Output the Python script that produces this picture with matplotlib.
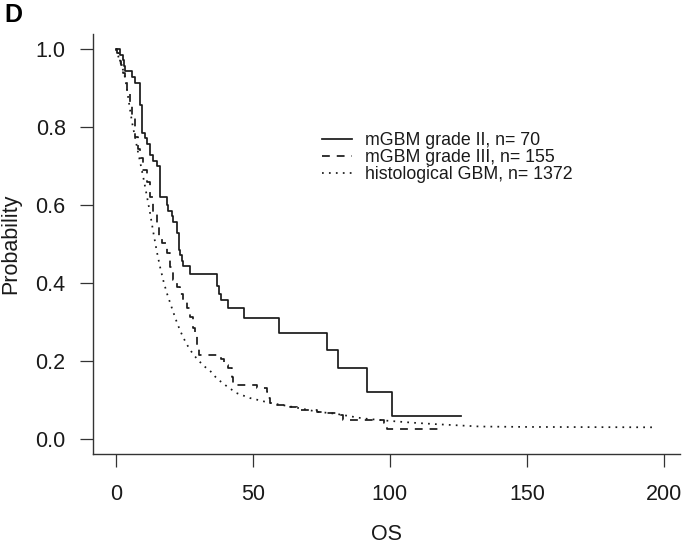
import matplotlib
matplotlib.use("Agg")
import matplotlib.pyplot as plt

# ---- data ----
g2_time = [0, 1.5, 2.5, 3.0, 3.4, 5.8, 7.0, 8.9, 9.7, 10.7, 11.3, 12.5, 13.7, 15.0, 16.2,
           18.6, 19.2, 20.4, 21.0, 22.3, 22.9, 23.5, 24.1, 24.5, 27.1, 37.1, 37.8, 38.3,
           40.9, 46.8, 59.7, 77.0, 80.9, 91.6, 100.7, 125.9]
g2_surv = [1.0, 0.986, 0.971, 0.957, 0.943, 0.929, 0.914, 0.857, 0.786, 0.771, 0.757, 0.729,
           0.714, 0.700, 0.621, 0.600, 0.586, 0.571, 0.557, 0.529, 0.486, 0.471, 0.457,
           0.443, 0.423, 0.393, 0.371, 0.357, 0.337, 0.310, 0.273, 0.228, 0.181, 0.121,
           0.060, 0.060]

g3_time = [0, 0.5, 1.0, 1.5, 2.0, 2.8, 3.4, 4.2, 5.2, 6.0, 7.0, 8.0, 8.9, 10.0, 11.3, 12.5,
           13.7, 15.0, 15.6, 16.8, 18.6, 19.8, 21.0, 22.3, 23.5, 24.7, 25.9, 27.1, 28.3,
           29.0, 29.6, 30.5, 38.3, 39.3, 41.1, 42.3, 42.9, 51.5, 55.1, 55.7, 56.3, 58.8,
           63.6, 66.0, 73.4, 77.0, 80.7, 83.0, 97.7, 98.9, 119.6]
g3_surv = [1.0, 0.99, 0.98, 0.97, 0.96, 0.94, 0.92, 0.89, 0.853, 0.825, 0.775, 0.745, 0.72,
           0.69, 0.66, 0.62, 0.583, 0.545, 0.52, 0.502, 0.476, 0.442, 0.408, 0.39, 0.372,
           0.357, 0.335, 0.314, 0.285, 0.265, 0.24, 0.216, 0.205, 0.19, 0.181, 0.16, 0.139,
           0.13, 0.121, 0.104, 0.092, 0.088, 0.083, 0.074, 0.070, 0.066, 0.062, 0.049,
           0.040, 0.025, 0.025]

gbm_time = [0, 1, 2, 3, 3.4, 4, 5.2, 6, 7, 8, 8.9, 10.1, 11.3, 12.5, 13.7, 15.0, 16.2, 17.4,
            18.6, 19.8, 21.0, 22.5, 24.0, 25.5, 27.0, 28.5, 30.0, 32.0, 34.4, 36.9, 40.0,
            44.0, 49.0, 52.0, 56.0, 60.0, 64.0, 70.0, 73.4, 80.0, 85.0, 90.0, 99.0, 108.0,
            117.0, 125.0, 133.0, 150.0, 197.4]
gbm_surv = [1.0, 0.98, 0.96, 0.94, 0.926, 0.9, 0.845, 0.81, 0.775, 0.74, 0.71, 0.669, 0.625,
            0.58, 0.53, 0.48, 0.44, 0.405, 0.375, 0.35, 0.325, 0.295, 0.27, 0.248, 0.23,
            0.215, 0.203, 0.188, 0.175, 0.155, 0.138, 0.118, 0.105, 0.1, 0.093, 0.088,
            0.083, 0.075, 0.07, 0.065, 0.059, 0.053, 0.047, 0.042, 0.038, 0.035, 0.032,
            0.031, 0.03]

labels = ["mGBM grade II, n= 70", "mGBM grade III, n= 155", "histological GBM, n= 1372"]
x_ticks = [0, 50, 100, 150, 200]
y_ticks = [0.0, 0.2, 0.4, 0.6, 0.8, 1.0]

# ---- style ----
plt.rcParams['font.family'] = ['Liberation Sans', 'DejaVu Sans']
ink = '#1a1a1a'

fig = plt.figure(figsize=(6.85, 5.49), dpi=100)
ax = fig.add_axes([0.1362, 0.1730, 0.8572, 0.7651])

lw = 1.25
ax.step(g2_time, g2_surv, where='post', color=ink, lw=lw, label=labels[0])
ax.step(g3_time, g3_surv, where='post', color=ink, lw=lw, dashes=(4.5, 4), label=labels[1])
ax.plot(gbm_time, gbm_surv, color=ink, lw=lw, dashes=(1, 3), label=labels[2])

ax.set_xlim(-8.2, 206.0)
ax.set_ylim(-0.0385, 1.039)
ax.set_xticks(x_ticks)
ax.set_xticklabels([str(v) for v in x_ticks])
ax.set_yticks(y_ticks)
ax.set_yticklabels([f"{v:.1f}" for v in y_ticks])

for s in ['top', 'right']:
    ax.spines[s].set_visible(False)
for s in ['left', 'bottom']:
    ax.spines[s].set_linewidth(1.0)
    ax.spines[s].set_color('#333333')

ax.tick_params(axis='both', length=9.4, width=0.9, color='#333333',
               labelsize=15.5, labelcolor=ink)
ax.tick_params(axis='y', pad=10.5)
ax.tick_params(axis='x', pad=12)

ax.set_xlabel("OS", fontsize=15.5, color=ink, labelpad=14)
ax.set_ylabel("Probability", fontsize=15.5, color=ink, labelpad=10)

leg = ax.legend(loc='upper left', bbox_to_anchor=(0.4696, 0.7596),
                bbox_transform=fig.transFigure, frameon=False, fontsize=12.8,
                borderpad=0, borderaxespad=0, handlelength=1.69,
                handletextpad=0.75, labelspacing=0.0)
for t in leg.get_texts():
    t.set_color(ink)

fig.text(0.006, 0.995, "D", fontsize=18, fontweight='bold', va='top', ha='left', color='black')

fig.savefig("out.png", dpi=100)
